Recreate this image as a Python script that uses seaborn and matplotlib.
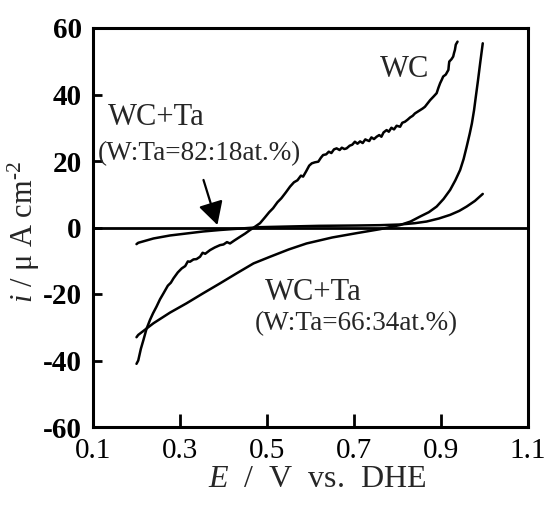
import numpy as np
import pandas as pd
import matplotlib
matplotlib.use("Agg")
import matplotlib.pyplot as plt
import seaborn as sns

# ---- data ----
wc_E = [0.200, 0.204, 0.210, 0.216, 0.223, 0.231, 0.238, 0.246, 0.254, 0.262,
        0.272, 0.279, 0.285, 0.295, 0.304, 0.312, 0.318, 0.323, 0.331, 0.338,
        0.346, 0.352, 0.358, 0.369, 0.380, 0.392, 0.400, 0.408, 0.415, 0.425,
        0.438, 0.450, 0.461, 0.472, 0.484, 0.495, 0.505, 0.514, 0.524, 0.533,
        0.543, 0.553, 0.562, 0.570, 0.578, 0.583, 0.590, 0.597, 0.603, 0.610,
        0.618, 0.624, 0.629, 0.636, 0.642, 0.648, 0.654, 0.660, 0.667, 0.672,
        0.678, 0.683, 0.690, 0.696, 0.702, 0.708, 0.714, 0.720, 0.726, 0.729,
        0.735, 0.740, 0.746, 0.752, 0.758, 0.763, 0.768, 0.775, 0.780, 0.786,
        0.792, 0.798, 0.806, 0.811, 0.817, 0.823, 0.829, 0.835, 0.840, 0.846,
        0.852, 0.858, 0.863, 0.869, 0.875, 0.883, 0.890, 0.894, 0.898, 0.902,
        0.905, 0.911, 0.917, 0.918, 0.919, 0.924, 0.928, 0.930, 0.932, 0.934,
        0.938]
wc_i = [-41.0, -40.0, -36.5, -33.8, -30.5, -27.8, -25.8, -23.8, -21.6, -19.8,
        -17.5, -16.6, -15.3, -13.5, -12.3, -11.6, -10.2, -10.3, -9.6, -9.5,
        -8.8, -7.6, -7.9, -6.8, -6.0, -5.3, -5.1, -4.4, -4.8, -3.9,
        -2.8, -1.8, -0.75, 0.2, 1.3, 3.0, 4.6, 5.8, 7.6, 8.8,
        10.5, 12.3, 13.6, 14.2, 15.6, 15.3, 16.9, 18.6, 19.3, 19.6,
        19.8, 21.0, 21.8, 22.0, 22.8, 22.4, 23.5, 23.8, 23.3, 24.0,
        23.6, 23.8, 24.6, 24.9, 25.8, 25.2, 25.9, 25.4, 26.5, 26.3,
        26.0, 27.1, 26.6, 27.3, 27.8, 27.3, 28.6, 29.3, 28.8, 30.0,
        29.5, 30.6, 30.3, 31.5, 31.8, 32.4, 33.1, 33.6, 34.3, 34.8,
        35.3, 35.8, 36.3, 37.3, 38.3, 39.4, 40.4, 42.0, 43.4, 44.5,
        45.4, 46.0, 47.4, 48.8, 49.9, 50.6, 51.4, 52.5, 53.4, 55.0,
        55.9]

ta66_E = [0.200, 0.204, 0.239, 0.277, 0.315, 0.353, 0.392, 0.430, 0.469, 0.507,
          0.550, 0.591, 0.650, 0.706, 0.760, 0.806, 0.830, 0.852, 0.872, 0.890,
          0.906, 0.921, 0.933, 0.944, 0.952, 0.959, 0.966, 0.971, 0.976, 0.980,
          0.985, 0.990, 0.996]
ta66_i = [-33.0, -32.3, -28.8, -25.6, -22.8, -19.8, -16.8, -13.8, -10.8, -8.8,
          -6.6, -4.8, -3.0, -1.7, -0.5, 0.75, 1.8, 3.3, 4.6, 6.3,
          8.6, 11.3, 14.2, 17.3, 20.6, 24.3, 28.2, 31.3, 35.3, 39.3,
          44.2, 49.4, 55.4]

ta82_E = [0.200, 0.204, 0.239, 0.277, 0.315, 0.353, 0.392, 0.440, 0.484, 0.550,
          0.620, 0.706, 0.760, 0.806, 0.840, 0.867, 0.895, 0.921, 0.942, 0.959,
          0.978, 0.996]
ta82_i = [-5.0, -4.6, -3.3, -2.4, -1.8, -1.2, -0.75, -0.3, 0.1, 0.3,
          0.5, 0.6, 0.7, 0.9, 1.3, 1.8, 2.7, 3.8, 5.0, 6.3,
          8.0, 10.1]

x_ticks = [0.1, 0.3, 0.5, 0.7, 0.9, 1.1]
y_ticks = [-60, -40, -20, 0, 20, 40, 60]

# ---- style ----
sns.set_theme(style="ticks")
plt.rcParams["font.family"] = ["Liberation Serif", "DejaVu Serif"]
plt.rcParams["mathtext.fontset"] = "custom"
plt.rcParams["mathtext.rm"] = "Liberation Serif"
plt.rcParams["mathtext.it"] = "Liberation Serif:italic"
plt.rcParams["mathtext.bf"] = "Liberation Serif:bold"

fig = plt.figure(figsize=(5.55, 5.17), dpi=100)
ax = fig.add_axes([93 / 555, 1 - 427 / 517, 435 / 555, 399 / 517])

lw = 1.8
for E, cur in [(wc_E, wc_i), (ta66_E, ta66_i), (ta82_E, ta82_i)]:
    df = pd.DataFrame({"E": E, "i": cur})
    sns.lineplot(data=df, x="E", y="i", ax=ax, color="black", lw=lw,
                 sort=False, estimator=None)

ax.axhline(0, color="black", lw=2.0, zorder=1)

ax.set_xlim(0.1, 1.1)
ax.set_ylim(-60, 60)
ax.set_xticks(x_ticks)
ax.set_yticks(y_ticks)
ax.set_xticklabels([f"{v:.1f}" for v in x_ticks], fontsize=21)
ax.set_yticklabels([f"{v}" for v in y_ticks], fontsize=21, fontweight="bold")
ax.tick_params(axis="x", direction="in", length=9.5, width=2.0, pad=8,
               colors="black")
ax.tick_params(axis="y", direction="in", length=6.5, width=2.0, pad=8,
               colors="black")
for s in ax.spines.values():
    s.set_linewidth(2.2)
    s.set_color("black")
    s.set_visible(True)

ax.set_xlabel("")
ax.set_ylabel("")
fig.text(317.5 / 555, 1 - 487 / 517, r"$E$  /  V  vs.  DHE", fontsize=23,
         ha="center", va="baseline")
fig.text(24 / 555, 1 - 232 / 517, r"$i$ / μ A cm$^{\text{-2}}$", fontsize=22,
         ha="center", va="center", rotation=90)

# annotations
ax.text(0.760, 45.3, "WC", fontsize=22, ha="left", va="baseline")
ax.text(0.1345, 30.8, "WC+Ta", fontsize=22, ha="left", va="baseline")
ax.text(0.1115, 20.3, "(W:Ta=82:18at.%)", fontsize=19.5, ha="left", va="baseline")
ax.text(0.4954, -21.8, "WC+Ta", fontsize=22, ha="left", va="baseline")
ax.text(0.4724, -31.0, "(W:Ta=66:34at.%)", fontsize=19.5, ha="left", va="baseline")

ax.annotate("", xy=(0.386, 0.75), xytext=(0.354, 14.3),
            arrowprops=dict(arrowstyle="-|>,head_length=0.7,head_width=0.38",
                            mutation_scale=20, lw=1.6, color="black",
                            shrinkA=0, shrinkB=0))

fig.savefig("out.png", dpi=100)
